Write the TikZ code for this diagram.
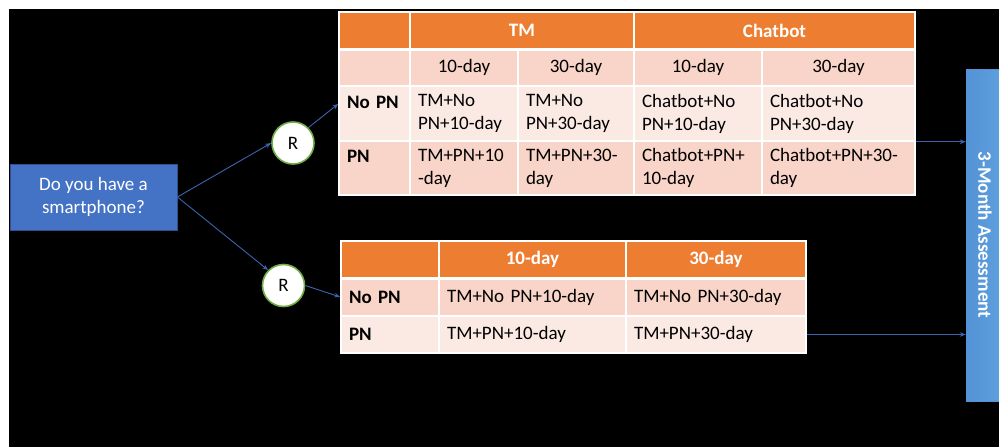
\documentclass[tikz,border=0pt]{standalone}
\usepackage{fontspec}
\setmainfont{Carlito}
\usetikzlibrary{arrows.meta,calc}
\definecolor{orng}{HTML}{ED7D31}
\definecolor{rowdark}{HTML}{F8D5C8}
\definecolor{rowlight}{HTML}{FBEAE4}
\definecolor{qblue}{HTML}{4472C4}
\definecolor{qborder}{HTML}{2F528F}
\definecolor{ablue}{HTML}{5393D6}
\definecolor{ablueL}{HTML}{5FA0DE}
\definecolor{arrowc}{HTML}{3B64B0}
\definecolor{rgreen}{HTML}{70AD47}
\newcommand\mycell[8]{%
  \pgfmathsetmacro\cw{#4-#2}\pgfmathsetmacro\ch{#5-#3}\pgfmathsetmacro\tw{#4-#2-16}%
  \node[cellbox, fill=#6, minimum width=\cw pt, minimum height=\ch pt, text width=\tw pt, align=#7]
    (#1) at ({(#2+#4)/2},{(#3+#5)/2}) {#8};}
\begin{document}
\begin{tikzpicture}[x=1pt,y=-1pt,font=\fontsize{19}{23}\selectfont,
  cellbox/.style={rectangle, draw=white, line width=1.5pt, inner xsep=8pt, inner ysep=2pt, text=black},
  hd/.style={text=white, font=\fontsize{19}{23}\selectfont\bfseries},
  arr/.style={draw=arrowc, line width=0.9pt, -{Stealth[length=6pt,width=4.5pt]}},
  rnode/.style={circle, draw=rgreen, line width=1.6pt, fill=white, minimum size=42pt, inner sep=0pt},
  qbox/.style={rectangle, fill=qblue, draw=qborder, line width=0.8pt, text=white, align=center,
    minimum width=167pt, minimum height=66pt, inner sep=2pt},
  abox/.style={rectangle, left color=ablue, right color=ablueL, draw=ablue, text=white,
    minimum width=38pt, minimum height=332pt, inner sep=0pt}]
\useasboundingbox (0,0) rectangle (999,447);
\fill[white] (0,0) rectangle (999,447);
\fill[black] (9,9) rectangle (999,447);

% question box
\node[qbox] (Q) at (93.5,197) {Do you have a\\smartphone?};
% randomisation nodes
\node[rnode] (R1) at (293,143) {R};
\node[rnode] (R2) at (283.5,285.5) {R};
% assessment box
\node[abox] (A) at (985,235) {\rotatebox{-90}{\bfseries 3-Month Assessment}};

% ---- Table 1 ----
\mycell{b00}{339}{12}{410}{49}{orng}{center}{}
\mycell{b0tm}{410}{12}{634}{49}{orng}{center}{\textcolor{white}{\bfseries TM}}
\mycell{b0cb}{634}{12}{915}{49}{orng}{center}{\textcolor{white}{\bfseries Chatbot}}
\mycell{b10}{339}{49}{410}{86}{rowdark}{center}{}
\mycell{b11}{410}{49}{518}{86}{rowdark}{center}{10-day}
\mycell{b12}{518}{49}{634}{86}{rowdark}{center}{30-day}
\mycell{b13}{634}{49}{762}{86}{rowdark}{center}{10-day}
\mycell{b14}{762}{49}{915}{86}{rowdark}{center}{30-day}
\mycell{b20}{339}{86}{410}{141}{rowlight}{left}{{\bfseries No PN}\\\mbox{}}
\mycell{b21}{410}{86}{518}{141}{rowlight}{left}{TM+No\\PN+10-day}
\mycell{b22}{518}{86}{634}{141}{rowlight}{left}{TM+No\\PN+30-day}
\mycell{b23}{634}{86}{762}{141}{rowlight}{left}{Chatbot+No\\PN+10-day}
\mycell{b24}{762}{86}{915}{141}{rowlight}{left}{Chatbot+No\\PN+30-day}
\mycell{b30}{339}{141}{410}{195}{rowdark}{left}{{\bfseries PN}\\\mbox{}}
\mycell{b31}{410}{141}{518}{195}{rowdark}{left}{TM+PN+10\\-day}
\mycell{b32}{518}{141}{634}{195}{rowdark}{left}{TM+PN+30-\\day}
\mycell{b33}{634}{141}{762}{195}{rowdark}{left}{Chatbot+PN+\\10-day}
\mycell{b34}{762}{141}{915}{195}{rowdark}{left}{Chatbot+PN+30-\\day}
\draw[white, line width=2.5pt] (b00.south west) -- (b0cb.south east);

% ---- Table 2 ----
\mycell{d00}{341}{241}{439}{278}{orng}{center}{}
\mycell{d01}{439}{241}{626}{278}{orng}{center}{\textcolor{white}{\bfseries 10-day}}
\mycell{d02}{626}{241}{806}{278}{orng}{center}{\textcolor{white}{\bfseries 30-day}}
\mycell{d10}{341}{278}{439}{316}{rowdark}{left}{\bfseries No PN}
\mycell{d11}{439}{278}{626}{316}{rowdark}{left}{TM+No PN+10-day}
\mycell{d12}{626}{278}{806}{316}{rowdark}{left}{TM+No PN+30-day}
\mycell{d20}{341}{316}{439}{353}{rowlight}{left}{\bfseries PN}
\mycell{d21}{439}{316}{626}{353}{rowlight}{left}{TM+PN+10-day}
\mycell{d22}{626}{316}{806}{353}{rowlight}{left}{TM+PN+30-day}
\draw[white, line width=2.5pt] (d00.south west) -- (d02.south east);

% ---- connectors ----
\coordinate (t1in) at ($(b20.north west)!0.33!(b20.south west)$);
\draw[arr] (Q.east) -- (R1.west);
\draw[arr] (Q.east) -- (R2.north west);
\draw[arr] (R1.north east) -- (t1in);
\draw[arr] (R2.east) -- (d10.west);
\draw[arr] (b24.south east) -- (b24.south east -| A.west);
\draw[arr] (d22.east) -- (d22.east -| A.west);
\end{tikzpicture}
\end{document}
